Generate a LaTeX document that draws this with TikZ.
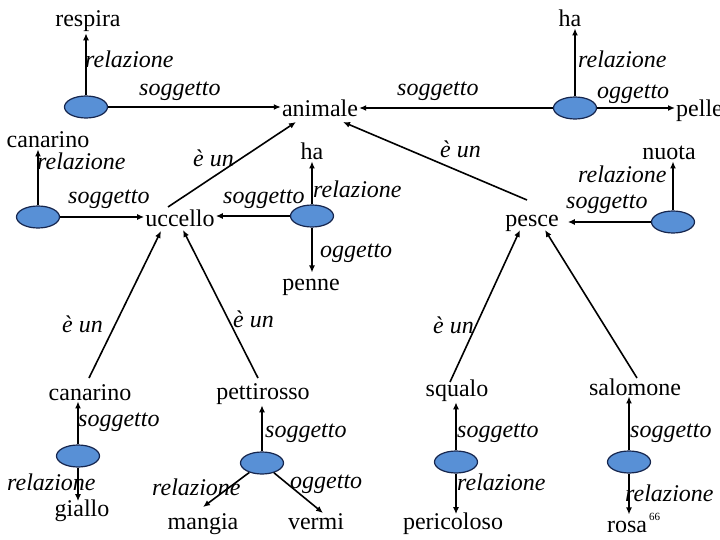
\documentclass[tikz,border=0pt]{standalone}
\usepackage{fontspec}
\setmainfont{Liberation Serif}
\usetikzlibrary{arrows.meta,shapes.geometric,calc}
\definecolor{ellfill}{RGB}{88,144,214}
\definecolor{elldraw}{RGB}{22,38,78}
\begin{document}
\begin{tikzpicture}[x=1pt,y=-1pt,
 txt/.style={font=\fontsize{24}{28}\selectfont, inner sep=1pt, anchor=base},
 lbl/.style={font=\fontsize{24}{28}\selectfont\itshape, inner sep=0pt, anchor=base west},
 ell/.style={ellipse, draw=elldraw, fill=ellfill, line width=1.2pt, minimum width=43pt, minimum height=22pt, inner sep=0pt},
 conn/.style={line width=1.6pt, -{Latex[length=7pt,width=6pt]}}]
\useasboundingbox[fill=white] (0,0) rectangle (720,540);
% text nodes
\node[txt] (respira) at (88,27) {respira};
\node[txt] (haA) at (570,27) {ha};
\node[txt] (animale) at (320,117) {animale};
\node[txt,anchor=base west] (pelle) at (675,117) {pelle};
\node[txt] (canA) at (48,148) {canarino};
\node[txt] (haB) at (312,160) {ha};
\node[txt] (nuota) at (669,160) {nuota};
\node[txt] (uccello) at (180,226) {uccello};
\node[txt] (pesce) at (532,226) {pesce};
\node[txt] (penne) at (311,290) {penne};
\node[txt] (canB) at (90,400) {canarino};
\node[txt] (pett) at (263,399) {pettirosso};
\node[txt] (squalo) at (457,396) {squalo};
\node[txt] (salomone) at (635,395) {salomone};
\node[txt] (giallo) at (82,516) {giallo};
\node[txt] (mangia) at (203,529) {mangia};
\node[txt] (vermi) at (316,529) {vermi};
\node[txt] (peric) at (453,529) {pericoloso};
\node[txt] (rosa) at (627,532) {rosa};
\node[font=\fontsize{11}{13}\selectfont, inner sep=0pt, anchor=base west] (num) at (649,520) {66};
% ellipses
\node[ell] (e1) at (86,107) {};
\node[ell] (e2) at (575,108) {};
\node[ell] (e3) at (38,217) {};
\node[ell] (e4) at (312,216) {};
\node[ell] (e5) at (673,222) {};
\node[ell] (e6) at (78,456) {};
\node[ell] (e7) at (262,463) {};
\node[ell] (e8) at (456,462) {};
\node[ell] (e9) at (629,462) {};
% connectors
\draw[conn] (e1) -- (e1 |- respira.south);
\draw[conn] (e1) -- (animale.west |- e1);
\draw[conn] (e2) -- (e2 |- haA.south);
\draw[conn] (e2) -- (animale.east |- e2);
\draw[conn] (e2) -- (pelle.west |- e2);
\draw[conn] (e3) -- (e3 |- canA.south);
\draw[conn] (e3) -- (uccello.west |- e3);
\draw[conn] (e4) -- (e4 |- haB.south);
\draw[conn] (e4) -- (uccello.east |- e4);
\draw[conn] (e4) -- ($(e4 |- penne.north)+(0,-5)$);
\draw[conn] (e5) -- (e5 |- nuota.south);
\draw[conn] (e5) -- ($(pesce.east |- e5)+(8,0)$);
\draw[conn] ($(uccello.base)+(-12,-19)$) -- ($(animale.base)+(-24,5)$);
\draw[conn] ($(pesce.base)+(-5,-26)$) -- ($(animale.base)+(23,5)$);
\draw[conn] ($(canB.base)+(-1,-22)$) -- ($(uccello.base)+(-19,5)$);
\draw[conn] ($(pett.base)+(-5,-21)$) -- ($(uccello.base)+(3,4)$);
\draw[conn] ($(squalo.base)+(-7,-14)$) -- ($(pesce.base)+(-12,4)$);
\draw[conn] ($(salomone.base)+(2,-17)$) -- ($(pesce.base)+(13,4)$);
\draw[conn] (e6) -- (e6 |- canB.south);
\draw[conn] (e6) -- ($(e6 |- giallo.north)+(0,3)$);
\draw[conn] (e7) -- (e7 |- pett.south);
\draw[conn] (e7) -- ($(mangia.base)+(0,-22)$);
\draw[conn] (e7) -- ($(vermi.base)+(7,-16)$);
\draw[conn] (e8) -- (e8 |- squalo.south);
\draw[conn] (e8) -- ($(e8 |- peric.north)+(0,3)$);
\draw[conn] (e9) -- (e9 |- salomone.south);
\draw[conn] (e9) -- ($(e9 |- rosa.north)+(0,-5)$);
% labels
\node[lbl] (l1) at (85,68) {relazione};
\node[lbl] (l2) at (139,96) {soggetto};
\node[lbl] (l3) at (578,68) {relazione};
\node[lbl] (l4) at (397,96) {soggetto};
\node[lbl] (l5) at (597,99) {oggetto};
\node[lbl] (l6) at (37,170) {relazione};
\node[lbl] (l7) at (68,204) {soggetto};
\node[lbl] (l8) at (193,167) {è un};
\node[lbl] (l9) at (223,204) {soggetto};
\node[lbl] (l10) at (313,197) {relazione};
\node[lbl] (l11) at (320,258) {oggetto};
\node[lbl] (l12) at (440,158) {è un};
\node[lbl] (l13) at (578,183) {relazione};
\node[lbl] (l14) at (566,209) {soggetto};
\node[lbl] (l15) at (62,332) {è un};
\node[lbl] (l16) at (233,327) {è un};
\node[lbl] (l17) at (433,333) {è un};
\node[lbl] (l18) at (78,426) {soggetto};
\node[lbl] (l19) at (7,490) {relazione};
\node[lbl] (l20) at (265,437) {soggetto};
\node[lbl] (l21) at (152,495) {relazione};
\node[lbl] (l22) at (290,488) {oggetto};
\node[lbl] (l23) at (457,437) {soggetto};
\node[lbl] (l24) at (457,490) {relazione};
\node[lbl] (l25) at (630,437) {soggetto};
\node[lbl] (l26) at (625,501) {relazione};
\end{tikzpicture}
\end{document}
